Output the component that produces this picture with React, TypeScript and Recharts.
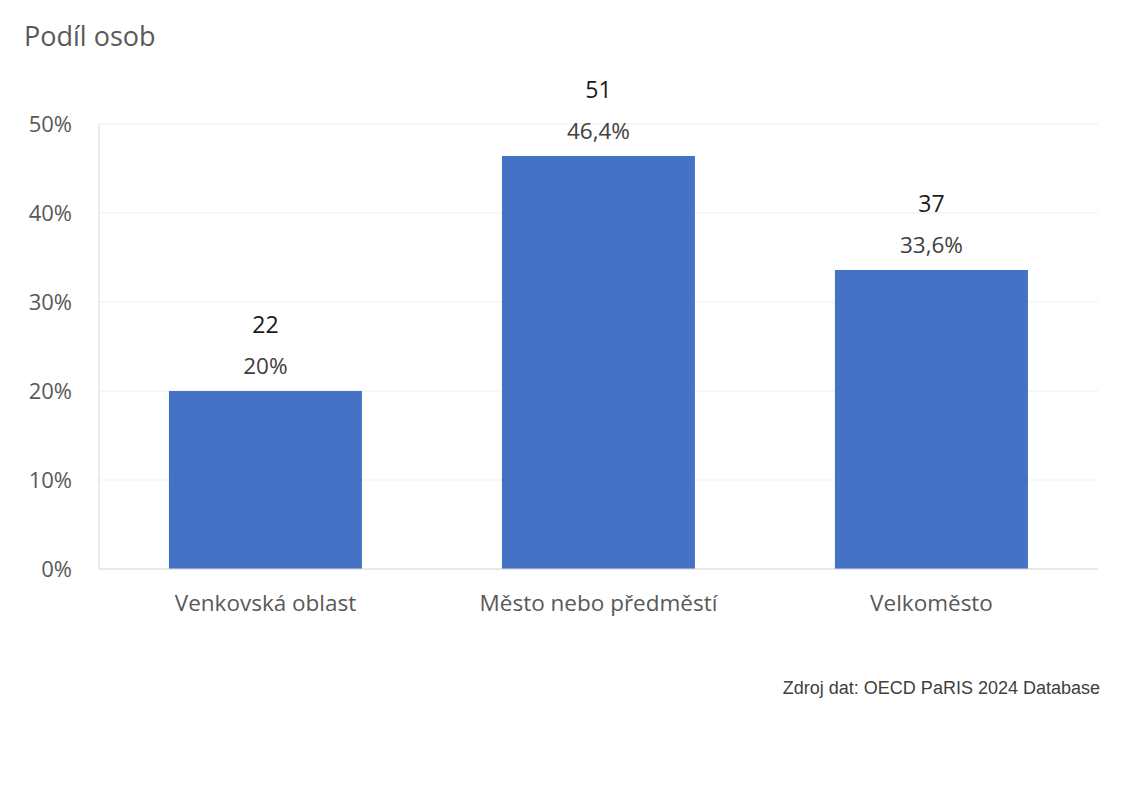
import { BarChart, Bar, XAxis, YAxis, CartesianGrid, LabelList } from 'recharts';

const categories = ['Venkovská oblast', 'Město nebo předměstí', 'Velkoměsto'];
const shares = [20, 46.4, 33.6];
const counts = [22, 51, 37];
const yTicks = [0, 10, 20, 30, 40, 50];

const data = categories.map((name, i) => ({ name, share: shares[i], count: counts[i] }));

const fmtShare = (v: any) => `${String(v).replace('.', ',')}%`;

export default function App() {
    return (
        <div style={{ position: 'absolute', left: 0, top: 0, width: 1128, height: 800, background: '#fff', fontFamily: '"Open Sans", sans-serif' }}>
            <div style={{ position: 'absolute', left: 24, top: 17, fontSize: 27, color: '#595959' }}>Podíl osob</div>
            <BarChart width={1128} height={800} data={data} margin={{ top: 124, right: 30, left: 0, bottom: 191 }} barCategoryGap="21%">
                <CartesianGrid stroke="#efefef" vertical={false} />
                <XAxis dataKey="name" height={40} tickLine={false} axisLine={{ stroke: '#d9d9d9' }} tickMargin={20}
                    tick={{ fill: '#595959', fontSize: 22.5 }} />
                <YAxis width={99} domain={[0, 50]} ticks={yTicks} tickLine={false} axisLine={{ stroke: '#d9d9d9' }} tickMargin={21}
                    tickFormatter={(v) => `${v}%`} tick={{ fill: '#595959', fontSize: 22 }} />
                <Bar dataKey="share" fill="#4472c4" isAnimationActive={false}>
                    <LabelList dataKey="share" position="top" offset={17} formatter={fmtShare} fill="#404040" fontSize={22.5} />
                    <LabelList dataKey="count" position="top" offset={58} fill="#1a1a1a" fontSize={23} />
                </Bar>
            </BarChart>
            <div style={{ position: 'absolute', right: 28, top: 678, fontSize: 18, color: '#404040', fontFamily: '"Liberation Sans", Arial, sans-serif' }}>
                Zdroj dat: OECD PaRIS 2024 Database
            </div>
        </div>
    );
}
